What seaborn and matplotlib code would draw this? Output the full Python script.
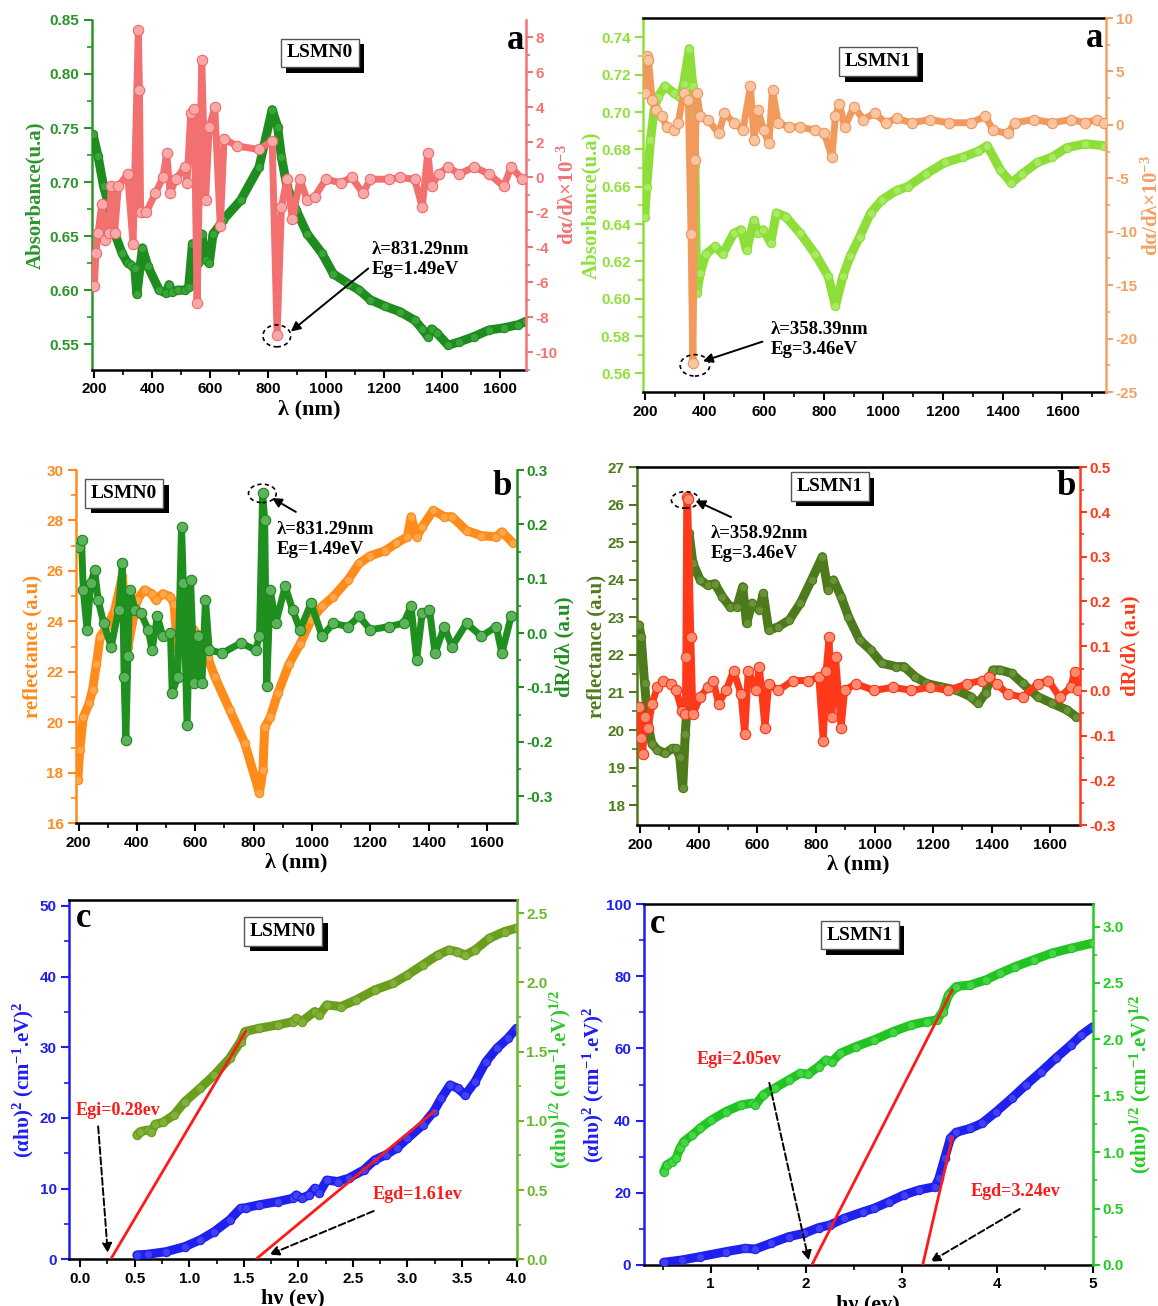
import matplotlib
matplotlib.use('Agg')
import matplotlib.pyplot as plt
import seaborn as sns
from matplotlib.patches import Ellipse
from matplotlib.ticker import FixedLocator, FormatStrFormatter
import matplotlib.patheffects as pe

sns.set_style('ticks')
plt.rcParams['font.family'] = ['Liberation Sans', 'DejaVu Sans']
plt.rcParams['font.weight'] = 'bold'
plt.rcParams['mathtext.fontset'] = 'custom'
plt.rcParams['mathtext.rm'] = 'Liberation Serif:bold'
plt.rcParams['mathtext.it'] = 'Liberation Serif:italic:bold'
plt.rcParams['mathtext.bf'] = 'Liberation Serif:bold'
plt.rcParams['mathtext.default'] = 'bf'
SERIF = ['Liberation Serif', 'DejaVu Serif']

# ---------------- data: panel a (LSMN0) ----------------
a0_abs_x = [196, 213, 232, 258, 270, 296, 315, 328, 340, 347, 366, 385, 424, 449, 458, 470, 488, 513, 526, 539,
            558, 571, 584, 597, 610, 630, 645, 705, 769, 814, 833, 846, 865, 897, 935, 986, 1025, 1076, 1114, 1153,
            1204, 1255, 1306, 1332, 1351, 1364, 1383, 1421, 1460, 1511, 1562, 1613, 1664, 1690]
a0_abs_y = [0.744, 0.724, 0.696, 0.671, 0.653, 0.634, 0.625, 0.623, 0.620, 0.596, 0.639, 0.622, 0.600, 0.597, 0.605,
            0.598, 0.600, 0.600, 0.603, 0.643, 0.625, 0.652, 0.628, 0.625, 0.652, 0.659, 0.665, 0.683, 0.714, 0.767,
            0.751, 0.723, 0.696, 0.674, 0.652, 0.634, 0.615, 0.606, 0.600, 0.591, 0.585, 0.580, 0.572, 0.564, 0.557,
            0.564, 0.560, 0.549, 0.552, 0.557, 0.563, 0.565, 0.568, 0.571]
a0_der_x = [200, 206, 213, 226, 238, 251, 258, 270, 283, 315, 334, 352, 356, 360, 379, 411, 437, 450, 462, 481,
            513, 520, 533, 545, 555, 571, 584, 597, 616, 635, 648, 693, 769, 814, 831, 846, 865, 884, 910, 935,
            961, 999, 1050, 1089, 1127, 1153, 1217, 1255, 1306, 1332, 1351, 1364, 1389, 1421, 1460, 1511, 1562,
            1613, 1639, 1677]
a0_der_y = [-6.2, -4.3, -3.2, -1.5, -3.6, -3.2, -0.5, -3.2, -0.5, 0.2, -3.8, 8.4, 5.0, -2.0, -2.0, -0.9, 0.0, 1.4,
            -0.9, -0.1, 0.6, -0.3, 3.7, 3.9, -7.2, 6.7, -1.3, 2.9, 4.0, -2.8, 2.2, 1.8, 1.6, 2.1, -9.0, -1.7, -0.1,
            -2.4, -0.1, -1.3, -1.1, -0.1, -0.3, 0.0, -0.9, -0.1, -0.1, 0.0, -0.1, -1.7, 1.4, -0.5, 0.2, 0.6, 0.2,
            0.6, 0.2, -0.5, 0.6, -0.1]

# ---------------- data: panel a (LSMN1) ----------------
a1_abs_x = [200, 206, 219, 231, 243, 268, 299, 318, 330, 349, 361, 368, 374, 386, 405, 436, 461, 498, 523, 541,
            566, 579, 597, 622, 641, 672, 721, 771, 815, 839, 864, 889, 920, 957, 995, 1044, 1081, 1144, 1206, 1268,
            1317, 1348, 1392, 1429, 1466, 1516, 1566, 1615, 1677, 1740]
a1_abs_y = [0.644, 0.660, 0.685, 0.701, 0.708, 0.714, 0.710, 0.708, 0.715, 0.734, 0.714, 0.671, 0.603, 0.614, 0.624,
            0.628, 0.624, 0.635, 0.637, 0.626, 0.642, 0.635, 0.637, 0.630, 0.646, 0.644, 0.635, 0.624, 0.612, 0.596,
            0.612, 0.623, 0.633, 0.646, 0.653, 0.658, 0.660, 0.667, 0.673, 0.676, 0.679, 0.682, 0.669, 0.662, 0.667,
            0.673, 0.676, 0.681, 0.683, 0.682]
a1_der_x = [200, 206, 212, 225, 237, 256, 274, 299, 312, 330, 346, 355, 361, 368, 374, 386, 411, 448, 467, 498,
            529, 554, 566, 579, 598, 616, 628, 647, 684, 721, 771, 802, 827, 839, 852, 870, 901, 933, 970, 1007,
            1044, 1094, 1156, 1218, 1293, 1342, 1367, 1416, 1441, 1503, 1566, 1628, 1677, 1715, 1740]
a1_der_y = [3.0, 6.4, 6.1, 2.3, 1.4, 0.8, -0.2, -0.5, 0.2, 3.0, 2.3, -10.2, -22.3, -3.3, 3.0, 0.8, 0.5, -0.8, 1.1,
            0.2, -0.5, 3.6, -1.4, 1.4, -0.5, -1.7, 3.3, 0.2, -0.2, -0.2, -0.5, -0.8, -3.0, 0.8, 2.0, -0.2, 1.7, 0.5,
            1.1, 0.2, 0.6, 0.2, 0.5, 0.2, 0.2, 0.8, -0.5, -0.8, 0.2, 0.5, 0.2, 0.5, 0.2, 0.5, 0.2]

# ---------------- data: panel b (LSMN0) ----------------
b0_ref_x = [197, 204, 216, 236, 248, 261, 274, 299, 324, 350, 369, 400, 426, 451, 464, 489, 515, 527, 540, 553,
            591, 616, 642, 667, 718, 769, 820, 832, 838, 857, 883, 921, 959, 997, 1035, 1073, 1124, 1162, 1200, 1251,
            1289, 1327, 1340, 1359, 1378, 1416, 1454, 1480, 1530, 1581, 1632, 1651, 1690]
b0_ref_y = [17.7, 18.9, 20.2, 20.75, 21.3, 22.3, 23.4, 23.8, 24.45, 25.8, 23.0, 24.85, 25.25, 25.1, 24.85, 25.1,
            24.98, 24.7, 22.9, 23.4, 23.7, 23.4, 22.6, 21.8, 20.5, 19.2, 17.2, 18.1, 19.8, 20.2, 21.15, 22.3, 23.1,
            24.05, 24.6, 24.98, 25.65, 26.3, 26.6, 26.8, 27.1, 27.35, 28.15, 27.35, 27.75, 28.4, 28.15, 28.15, 27.6,
            27.4, 27.35, 27.55, 27.1]
b0_der_x = [200, 210, 216, 229, 242, 255, 267, 286, 312, 337, 350, 356, 362, 369, 375, 394, 413, 439, 452, 470,
            489, 515, 521, 540, 553, 559, 572, 584, 597, 610, 623, 635, 648, 693, 756, 807, 820, 831, 838, 845,
            857, 876, 908, 934, 959, 997, 1035, 1073, 1124, 1162, 1200, 1263, 1314, 1340, 1359, 1378, 1403, 1422,
            1454, 1480, 1530, 1581, 1632, 1651, 1683]
b0_der_y = [0.159, 0.171, 0.080, 0.006, 0.092, 0.116, 0.061, 0.018, -0.025, 0.043, 0.129, -0.080, -0.196, -0.043,
            0.080, 0.043, 0.037, 0.006, -0.031, 0.031, -0.006, 0.000, -0.110, -0.080, 0.196, 0.092, -0.170, 0.098,
            -0.092, -0.006, -0.092, 0.061, -0.031, -0.037, -0.018, -0.031, -0.006, 0.257, 0.208, -0.098, 0.080,
            0.018, 0.086, 0.043, 0.006, 0.055, -0.006, 0.018, 0.012, 0.031, 0.006, 0.012, 0.018, 0.049, -0.049,
            0.037, 0.043, -0.037, 0.012, -0.025, 0.018, -0.006, 0.012, -0.037, 0.031]

# ---------------- data: panel b (LSMN1) ----------------
b1_ref_x = [196, 203, 215, 228, 240, 259, 285, 310, 323, 335, 345, 354, 361, 367, 380, 405, 430, 455, 481, 506,
            531, 550, 563, 582, 607, 620, 639, 671, 709, 747, 785, 822, 841, 860, 886, 911, 949, 987, 1025, 1075,
            1101, 1139, 1177, 1227, 1278, 1328, 1354, 1379, 1404, 1429, 1468, 1506, 1557, 1607, 1658, 1689]
b1_ref_y = [22.8, 22.49, 21.24, 20.09, 19.64, 19.47, 19.38, 19.51, 19.51, 19.29, 18.45, 19.9, 20.71, 25.24, 24.44,
            24.0, 23.86, 23.9, 23.55, 23.29, 23.29, 23.82, 22.84, 23.38, 23.2, 23.64, 22.66, 22.75, 22.93, 23.38,
            24.0, 24.62, 23.73, 24.0, 23.55, 23.02, 22.4, 22.13, 21.78, 21.69, 21.69, 21.42, 21.24, 21.15, 21.07,
            20.89, 20.71, 20.98, 21.6, 21.6, 21.51, 21.24, 20.89, 20.71, 20.53, 20.35]
b1_der_x = [196, 203, 209, 215, 228, 240, 259, 278, 304, 323, 342, 354, 356, 359, 362, 373, 380, 405, 430, 449,
            468, 493, 519, 544, 557, 569, 594, 607, 626, 639, 671, 721, 772, 810, 825, 835, 845, 854, 867, 886,
            898, 936, 999, 1063, 1126, 1189, 1252, 1316, 1366, 1392, 1417, 1455, 1506, 1557, 1594, 1632, 1670,
            1683, 1695]
b1_der_y = [-0.037, -0.105, -0.142, -0.059, -0.082, -0.029, 0.008, 0.023, 0.016, 0.001, -0.044, -0.052, 0.075,
            0.434, 0.430, 0.120, -0.052, -0.014, 0.008, 0.023, -0.029, 0.001, 0.045, -0.007, -0.097, 0.045, 0.001,
            0.053, -0.082, 0.016, 0.001, 0.023, 0.023, 0.030, -0.112, 0.045, 0.120, -0.059, 0.075, -0.082, 0.001,
            0.016, 0.001, 0.008, 0.001, 0.008, 0.001, 0.016, 0.023, 0.030, 0.016, -0.007, -0.014, 0.016, 0.023,
            -0.014, 0.008, 0.042, 0.001]

# ---------------- data: panel c (LSMN0) ----------------
c0_b_x = [0.52, 0.62, 0.79, 0.96, 1.10, 1.23, 1.37, 1.47, 1.52, 1.64, 1.81, 1.95, 1.98, 2.03, 2.10, 2.15, 2.19,
          2.26, 2.36, 2.46, 2.60, 2.70, 2.80, 2.90, 3.00, 3.14, 3.24, 3.31, 3.39, 3.46, 3.53, 3.62, 3.72, 3.82,
          3.92, 4.00]
c0_b_y = [0.61, 0.71, 1.08, 1.79, 2.74, 3.92, 5.57, 7.2, 7.3, 7.7, 8.16, 8.63, 9.1, 8.63, 9.1, 10.05, 9.34, 11.2,
          11.0, 11.46, 12.64, 14.06, 14.76, 15.7, 17.1, 19.0, 20.9, 22.8, 24.67, 24.2, 23.25, 25.14, 27.97, 29.86,
          31.27, 32.7]
c0_g_x = [0.52, 0.55, 0.62, 0.65, 0.69, 0.76, 0.86, 0.96, 1.10, 1.23, 1.37, 1.47, 1.51, 1.64, 1.81, 1.95, 1.98,
          2.03, 2.15, 2.19, 2.26, 2.39, 2.53, 2.70, 2.87, 3.00, 3.14, 3.28, 3.38, 3.45, 3.53, 3.62, 3.75, 3.89, 4.00]
c0_g_y = [0.898, 0.922, 0.934, 0.922, 0.975, 0.99, 1.043, 1.139, 1.236, 1.332, 1.452, 1.573, 1.645, 1.669, 1.693,
          1.717, 1.741, 1.717, 1.79, 1.765, 1.838, 1.826, 1.874, 1.946, 1.994, 2.054, 2.127, 2.199, 2.235, 2.223,
          2.199, 2.235, 2.319, 2.368, 2.392]
c0_egi_x = [0.28, 1.52]
c0_egi_y = [0.0, 1.65]
c0_egd_x = [1.61, 3.25]
c0_egd_y = [0.0, 21.0]

# ---------------- data: panel c (LSMN1) ----------------
c1_b_x = [0.51, 0.70, 0.89, 1.16, 1.36, 1.47, 1.63, 1.82, 1.98, 2.13, 2.25, 2.40, 2.60, 2.71, 2.87, 3.02, 3.18,
          3.35, 3.39, 3.45, 3.51, 3.57, 3.72, 3.84, 3.99, 4.15, 4.30, 4.46, 4.61, 4.77, 4.88, 5.00]
c1_b_y = [0.74, 1.39, 2.31, 3.69, 4.6, 4.43, 6.0, 7.85, 8.77, 10.34, 11.08, 12.93, 14.77, 15.7, 17.54, 19.39,
          20.78, 21.7, 24.0, 29.55, 35.1, 36.75, 37.86, 39.24, 42.47, 46.17, 49.86, 53.56, 57.25, 60.94, 63.7, 66.0]
c1_g_x = [0.51, 0.54, 0.60, 0.64, 0.68, 0.72, 0.81, 0.89, 1.01, 1.16, 1.32, 1.43, 1.47, 1.55, 1.67, 1.82, 1.94,
          2.02, 2.13, 2.21, 2.27, 2.36, 2.52, 2.71, 2.91, 3.10, 3.26, 3.37, 3.43, 3.49, 3.57, 3.72, 3.88, 4.03,
          4.19, 4.38, 4.57, 4.77, 5.00]
c1_g_y = [0.828, 0.887, 0.916, 0.946, 1.035, 1.094, 1.153, 1.212, 1.286, 1.360, 1.419, 1.434, 1.419, 1.508, 1.567,
          1.641, 1.700, 1.691, 1.759, 1.818, 1.803, 1.877, 1.936, 1.995, 2.069, 2.128, 2.158, 2.173, 2.247, 2.394,
          2.468, 2.483, 2.527, 2.587, 2.646, 2.705, 2.764, 2.808, 2.853]
c1_egi_x = [2.06, 3.53]
c1_egi_y = [0.0, 2.44]
c1_egd_x = [3.22, 3.53]
c1_egd_y = [0.0, 35.5]

wl_ticks = [200, 400, 600, 800, 1000, 1200, 1400, 1600]

fig = plt.figure(figsize=(11.58, 13.06), dpi=100)
fig.patch.set_facecolor('white')


def setup(rect, cl, cr, xlim, yl, yr, xt, xfmt, xminor, ylt, ylfmt, ylminor, yrt, yrfmt, yrminor, top):
    ax = fig.add_axes(rect)
    ax2 = ax.twinx()
    for a in (ax, ax2):
        a.set_facecolor('none')
        for s in a.spines.values():
            s.set_linewidth(1.8)
    ax.spines['right'].set_visible(False)
    ax2.spines['left'].set_visible(False)
    ax2.spines['bottom'].set_visible(False)
    ax2.spines['top'].set_visible(False)
    ax.spines['top'].set_visible(top)
    ax.spines['top'].set_color('black')
    ax.spines['bottom'].set_color('black')
    ax.spines['left'].set_color(cl)
    ax2.spines['right'].set_color(cr)
    ax.set_xlim(xlim)
    ax.set_ylim(yl)
    ax2.set_ylim(yr)
    ax.xaxis.set_major_locator(FixedLocator(xt))
    ax.xaxis.set_minor_locator(FixedLocator(xminor))
    ax.xaxis.set_major_formatter(FormatStrFormatter(xfmt))
    ax.yaxis.set_major_locator(FixedLocator(ylt))
    ax.yaxis.set_minor_locator(FixedLocator(ylminor))
    ax.yaxis.set_major_formatter(FormatStrFormatter(ylfmt))
    ax2.yaxis.set_major_locator(FixedLocator(yrt))
    ax2.yaxis.set_minor_locator(FixedLocator(yrminor))
    ax2.yaxis.set_major_formatter(FormatStrFormatter(yrfmt))
    ax.tick_params(axis='x', which='major', direction='out', length=6, width=1.5, colors='black',
                   labelsize=11, top=False, pad=3)
    ax.tick_params(axis='x', which='minor', direction='out', length=3.5, width=1.2, colors='black', top=False)
    ax.tick_params(axis='y', which='major', direction='out', length=6, width=1.5, colors=cl, labelsize=11, pad=3)
    ax.tick_params(axis='y', which='minor', direction='out', length=3.5, width=1.2, colors=cl)
    ax2.tick_params(axis='y', which='major', direction='out', length=5, width=1.5, colors=cr, labelsize=11, pad=2)
    ax2.tick_params(axis='y', which='minor', direction='out', length=3, width=1.2, colors=cr)
    for lab in ax.get_xticklabels() + ax.get_yticklabels() + ax2.get_yticklabels():
        lab.set_fontweight('bold')
    return ax, ax2


def curve(ax, x, y, color, lw, ms, mfc=None, mec=None, mew=0.8, z=3):
    sns.lineplot(x=x, y=y, ax=ax, color=color, linewidth=lw, marker='o', markersize=ms,
                 markerfacecolor=mfc if mfc else color, markeredgecolor=mec if mec else color,
                 markeredgewidth=mew, estimator=None, sort=False, legend=False, zorder=z)


def labels(ax, ax2, xl, yl, yr, cl, cr, lsize=15, padl=3, padr=3):
    if xl:
        ax.set_xlabel(xl, fontsize=16, family=SERIF, fontweight='bold', color='black', labelpad=2)
    else:
        ax.set_xlabel('')
    ax.set_ylabel(yl, fontsize=lsize, family=SERIF, fontweight='bold', color=cl, labelpad=padl)
    ax2.set_ylabel(yr, fontsize=lsize, family=SERIF, fontweight='bold', color=cr, labelpad=padr)


def tag(ax, fx, fy, s):
    t = ax.text(fx, fy, s, transform=ax.transAxes, ha='center', va='center', fontsize=14, family=SERIF,
                fontweight='bold', color='black', zorder=21,
                bbox=dict(boxstyle='square,pad=0.3', fc='white', ec='#555555', lw=1))
    t.get_bbox_patch().set_path_effects([
        pe.SimplePatchShadow(offset=(4, -4), shadow_rgbFace='black', alpha=1.0), pe.Normal()])


def letter(ax, fx, fy, s, ha='right'):
    ax.text(fx, fy, s, transform=ax.transAxes, ha=ha, va='center', fontsize=25, family=SERIF,
            fontweight='bold', color='black', zorder=22)


def note(ax, x, y, s, tr, color='black', size=13.5):
    ax.text(x, y, s, transform=tr, ha='left', va='center', fontsize=size, family=SERIF,
            fontweight='bold', color=color, linespacing=1.25, zorder=22)


def arrow(ax, xy, xytext, tr, dashed=False):
    ax.annotate('', xy=xy, xycoords=tr, xytext=xytext, textcoords=tr, zorder=22,
                arrowprops=dict(arrowstyle='-|>', color='black', lw=1.4,
                                ls='--' if dashed else '-', mutation_scale=14))


def ring(ax, c, w, h):
    ax.add_patch(Ellipse(c, w, h, fill=False, ec='black', lw=1.2, ls=(0, (2.5, 2)), zorder=21))


MAIN_LW, MAIN_MS = 6.5, 6
DER_LW, DER_MS = 5.0, 7.5

# ====== panel a, LSMN0 ======
cl, cr = '#2a962a', '#f07474'
ax, ax2 = setup([0.0794, 0.7167, 0.3748, 0.268], cl, cr, (192, 1690), (0.526, 0.85), (-11, 9),
                wl_ticks, '%d', list(range(300, 1700, 200)),
                [0.55, 0.60, 0.65, 0.70, 0.75, 0.80, 0.85], '%.2f', [0.575, 0.625, 0.675, 0.725, 0.775, 0.825],
                list(range(-10, 9, 2)), '%d', list(range(-11, 9, 2)), top=False)
curve(ax, a0_abs_x, a0_abs_y, '#1f8c1f', MAIN_LW, MAIN_MS, mfc='#3aa63a')
curve(ax2, a0_der_x, a0_der_y, '#f27070', DER_LW, DER_MS, mfc='#f8a8a8', mec='#f06a6a')
ax.set_xlim(192, 1690); ax.set_ylim(0.526, 0.85); ax2.set_ylim(-11, 9)
labels(ax, ax2, 'λ (nm)', 'Absorbance(u.a)', 'dα/dλ×10$^{-3}$', cl, cr, padr=0)
tag(ax2, 0.525, 0.906, 'LSMN0')
letter(ax2, 0.995, 0.94, 'a')
note(ax2, 1159, 0.628, 'λ=831.29nm\nEg=1.49eV', ax.transData)
arrow(ax2, (871, 0.560), (1153, 0.6216), ax.transData)
ring(ax2, (830, -9.05), 96, 1.25)

# ====== panel a, LSMN1 ======
cl, cr = '#8fe03c', '#f4a062'
ax, ax2 = setup([0.5553, 0.6998, 0.3998, 0.2864], cl, cr, (194, 1746), (0.55, 0.7504), (-25, 10),
                wl_ticks, '%d', list(range(300, 1800, 200)),
                [0.56, 0.58, 0.60, 0.62, 0.64, 0.66, 0.68, 0.70, 0.72, 0.74], '%.2f',
                [0.57, 0.59, 0.61, 0.63, 0.65, 0.67, 0.69, 0.71, 0.73],
                list(range(-25, 11, 5)), '%d', [-22.5, -17.5, -12.5, -7.5, -2.5, 2.5, 7.5], top=True)
curve(ax, a1_abs_x, a1_abs_y, '#8ede3a', MAIN_LW, MAIN_MS, mfc='#a6ea62')
curve(ax2, a1_der_x, a1_der_y, '#f29a5c', DER_LW, DER_MS, mfc='#f9c4a0', mec='#f0945a')
ax.set_xlim(194, 1746); ax.set_ylim(0.55, 0.7504); ax2.set_ylim(-25, 10)
labels(ax, ax2, None, 'Absorbance(u.a)', 'dα/dλ×10$^{-3}$', cl, cr, padl=0)
tag(ax2, 0.508, 0.883, 'LSMN1')
letter(ax2, 0.995, 0.946, 'a')
note(ax2, 622, -20.1, 'λ=358.39nm\nEg=3.46eV', ax2.transData)
arrow(ax2, (386, -22.2), (603, -20.2), ax2.transData)
ring(ax2, (368, -22.5), 99, 2.0)

# ====== panel b, LSMN0 ======
cl, cr = '#ff8a1c', '#1f8f1f'
ax, ax2 = setup([0.0656, 0.3696, 0.3806, 0.2705], cl, cr, (191, 1702), (16, 30), (-0.35, 0.3),
                wl_ticks, '%d', list(range(300, 1700, 200)),
                list(range(16, 31, 2)), '%d', list(range(17, 30, 2)),
                [-0.3, -0.2, -0.1, 0.0, 0.1, 0.2, 0.3], '%.1f', [-0.25, -0.15, -0.05, 0.05, 0.15, 0.25], top=False)
curve(ax, b0_ref_x, b0_ref_y, '#ff8c1a', MAIN_LW, MAIN_MS, mfc='#ffa54a')
curve(ax2, b0_der_x, b0_der_y, '#1f8f1f', DER_LW, DER_MS, mfc='#5cb35c', mec='#1a861a')
ax.set_xlim(191, 1702); ax.set_ylim(16, 30); ax2.set_ylim(-0.35, 0.3)
labels(ax, ax2, 'λ (nm)', 'reflectance (a.u)', 'dR/dλ (a.u)', cl, cr, padr=1)
tag(ax2, 0.109, 0.934, 'LSMN0')
letter(ax2, 0.99, 0.953, 'b')
note(ax2, 880, 0.1726, 'λ=831.29nm\nEg=1.49eV', ax2.transData)
arrow(ax2, (855, 0.251), (953, 0.2204), ax2.transData)
ring(ax2, (830, 0.257), 95, 0.034)

# ====== panel b, LSMN1 ======
cl, cr = '#4f7a1c', '#ff3a1a'
ax, ax2 = setup([0.5503, 0.3683, 0.3822, 0.2739], cl, cr, (190, 1701), (17.47, 27), (-0.3, 0.5),
                wl_ticks, '%d', list(range(300, 1700, 200)),
                list(range(18, 28)), '%d', [18.5 + i for i in range(9)],
                [-0.3, -0.2, -0.1, 0.0, 0.1, 0.2, 0.3, 0.4, 0.5], '%.1f',
                [-0.25, -0.15, -0.05, 0.05, 0.15, 0.25, 0.35, 0.45], top=True)
curve(ax, b1_ref_x, b1_ref_y, '#4d7a1a', MAIN_LW, MAIN_MS, mfc='#6a9238')
curve(ax2, b1_der_x, b1_der_y, '#ff3a1a', DER_LW, DER_MS, mfc='#ff8a70', mec='#f63414')
ax.set_xlim(190, 1701); ax.set_ylim(17.47, 27); ax2.set_ylim(-0.3, 0.5)
labels(ax, ax2, 'λ (nm)', 'reflectance (a.u)', 'dR/dλ (a.u)', cl, cr, padl=1)
tag(ax2, 0.435, 0.946, 'LSMN1')
letter(ax2, 0.99, 0.946, 'b')
note(ax2, 440, 0.3295, 'λ=358.92nm\nEg=3.46eV', ax2.transData)
arrow(ax2, (380, 0.428), (519, 0.386), ax2.transData)
ring(ax2, (354, 0.427), 95, 0.037)

# ====== panel c, LSMN0 ======
cl, cr = '#1e1ef0', '#6cb82a'
ax, ax2 = setup([0.0598, 0.0358, 0.3863, 0.2751], cl, cr, (-0.1, 4.0), (0, 50.85), (0, 2.596),
                [0.0, 0.5, 1.0, 1.5, 2.0, 2.5, 3.0, 3.5, 4.0], '%.1f', [0.25, 0.75, 1.25, 1.75, 2.25, 2.75, 3.25, 3.75],
                [0, 10, 20, 30, 40, 50], '%d', [5, 15, 25, 35, 45],
                [0.0, 0.5, 1.0, 1.5, 2.0, 2.5], '%.1f', [0.25, 0.75, 1.25, 1.75, 2.25], top=True)
curve(ax, c0_b_x, c0_b_y, '#2020ee', MAIN_LW, MAIN_MS, mfc='#4040f4', z=3)
sns.lineplot(x=c0_egd_x, y=c0_egd_y, ax=ax, color='#ff1a1a', linewidth=2, estimator=None, sort=False,
             legend=False, zorder=5)
curve(ax2, c0_g_x, c0_g_y, '#6b9e1c', MAIN_LW, MAIN_MS, mfc='#82b03a', z=3)
sns.lineplot(x=c0_egi_x, y=c0_egi_y, ax=ax2, color='#ff1a1a', linewidth=2, estimator=None, sort=False,
             legend=False, zorder=5)
ax.set_xlim(-0.1, 4.0); ax.set_ylim(0, 50.85); ax2.set_ylim(0, 2.596)
labels(ax, ax2, 'hν (ev)', '(αhυ)$^2$ (cm$^{-1}$.eV)$^2$', '(αhυ)$^{1/2}$ (cm$^{-1}$.eV)$^{1/2}$',
       cl, '#2ec82e', lsize=15, padr=0)
tag(ax2, 0.478, 0.912, 'LSMN0')
letter(ax2, 0.015, 0.949, 'c', ha='left')
note(ax2, -0.04, 21.1, 'Egi=0.28ev', ax.transData, color='#ff1a1a', size=13)
arrow(ax2, (0.255, 0.5), (0.163, 19.2), ax.transData, dashed=True)
note(ax2, 2.68, 9.1, 'Egd=1.61ev', ax.transData, color='#ff1a1a', size=13)
arrow(ax2, (1.71, 0.5), (2.714, 6.98), ax.transData, dashed=True)

# ====== panel c, LSMN1 ======
cl, cr = '#1e1ef0', '#22cc22'
ax, ax2 = setup([0.5558, 0.0314, 0.3879, 0.2764], cl, cr, (0.3, 5.0), (0, 100), (0, 3.2),
                [1, 2, 3, 4, 5], '%d', [0.5, 1.5, 2.5, 3.5, 4.5],
                [0, 20, 40, 60, 80, 100], '%d', [10, 30, 50, 70, 90],
                [0.0, 0.5, 1.0, 1.5, 2.0, 2.5, 3.0], '%.1f', [0.25, 0.75, 1.25, 1.75, 2.25, 2.75], top=True)
curve(ax, c1_b_x, c1_b_y, '#2020ee', MAIN_LW, MAIN_MS, mfc='#4040f4', z=3)
sns.lineplot(x=c1_egd_x, y=c1_egd_y, ax=ax, color='#ff1a1a', linewidth=2, estimator=None, sort=False,
             legend=False, zorder=5)
curve(ax2, c1_g_x, c1_g_y, '#22c422', MAIN_LW, MAIN_MS, mfc='#48d448', z=3)
sns.lineplot(x=c1_egi_x, y=c1_egi_y, ax=ax2, color='#ff1a1a', linewidth=2, estimator=None, sort=False,
             legend=False, zorder=5)
ax.set_xlim(0.3, 5.0); ax.set_ylim(0, 100); ax2.set_ylim(0, 3.2)
labels(ax, ax2, 'hν (ev)', '(αhυ)$^2$ (cm$^{-1}$.eV)$^2$', '(αhυ)$^{1/2}$ (cm$^{-1}$.eV)$^{1/2}$',
       cl, cr, lsize=15, padl=0)
tag(ax2, 0.481, 0.914, 'LSMN1')
letter(ax2, 0.015, 0.942, 'c', ha='left')
note(ax2, 0.853, 56.8, 'Egi=2.05ev', ax.transData, color='#ff1a1a', size=13)
arrow(ax2, (2.035, 0.5), (1.609, 51.2), ax.transData, dashed=True)
note(ax2, 3.72, 20.3, 'Egd=3.24ev', ax.transData, color='#ff1a1a', size=13)
arrow(ax2, (3.275, 0.5), (4.26, 15.9), ax.transData, dashed=True)

fig.savefig('out.png', dpi=100, facecolor='white')
